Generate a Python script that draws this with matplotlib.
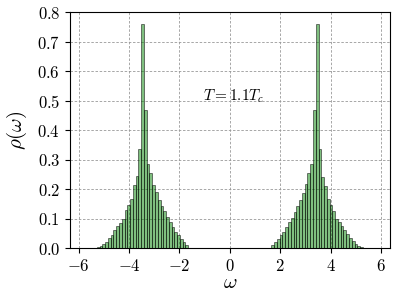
import numpy as np
import matplotlib
matplotlib.use("Agg")
import matplotlib.pyplot as plt

plt.rcParams["font.family"] = "serif"
plt.rcParams["font.serif"] = ["cmr10"]
plt.rcParams["mathtext.fontset"] = "cm"
plt.rcParams["axes.formatter.use_mathtext"] = True

# histogram: 100 bins of width 0.11 from -5.5 to 5.5
bin_start = -5.5
bin_width = 0.11

# left band, bins 0..35
rho_left = [0.001, 0.002, 0.004, 0.008, 0.015, 0.023, 0.034, 0.047, 0.062, 0.076,
            0.087, 0.100, 0.130, 0.147, 0.167, 0.213, 0.245, 0.336, 0.760, 0.468,
            0.285, 0.255, 0.215, 0.190, 0.165, 0.145, 0.125, 0.105, 0.088, 0.072,
            0.057, 0.044, 0.032, 0.020, 0.010, 0.003]
# right band, bins 64..99
rho_right = [0.003, 0.011, 0.020, 0.033, 0.045, 0.057, 0.071, 0.089, 0.104, 0.124,
             0.143, 0.164, 0.188, 0.218, 0.256, 0.287, 0.468, 0.760, 0.338, 0.242,
             0.212, 0.168, 0.148, 0.128, 0.101, 0.088, 0.077, 0.063, 0.048, 0.035,
             0.024, 0.015, 0.008, 0.004, 0.002, 0.001]

x_ticks = [-6, -4, -2, 0, 2, 4, 6]
y_ticks = [0.0, 0.1, 0.2, 0.3, 0.4, 0.5, 0.6, 0.7, 0.8]

heights = np.zeros(100)
heights[:len(rho_left)] = rho_left
heights[100 - len(rho_right):] = rho_right
edges = bin_start + bin_width * np.arange(100)

fig = plt.figure(figsize=(3.99, 2.95), dpi=100)
ax = fig.add_axes([0.175, 0.158, 0.802, 0.801])

ax.bar(edges, heights, width=bin_width, align="edge", color="g", alpha=0.5,
       edgecolor="k", linewidth=0.7, zorder=3)

ax.grid(True, linestyle=(0, (3, 2)), color="0.6", linewidth=0.6, zorder=0)
ax.set_axisbelow(True)
ax.set_xlim(-6.35, 6.35)
ax.set_ylim(0, 0.8)
ax.set_xticks(x_ticks)
ax.set_yticks(y_ticks)
ax.tick_params(labelsize=12)

ax.set_xlabel(r"$\omega$", fontsize=15, labelpad=0)
ax.set_ylabel(r"$\rho(\omega)$", fontsize=15, labelpad=6)
ax.text(-1.05, 0.515, r"$T=1.1T_c$", fontsize=11, va="center", ha="left")

fig.savefig("out.png", dpi=100)
